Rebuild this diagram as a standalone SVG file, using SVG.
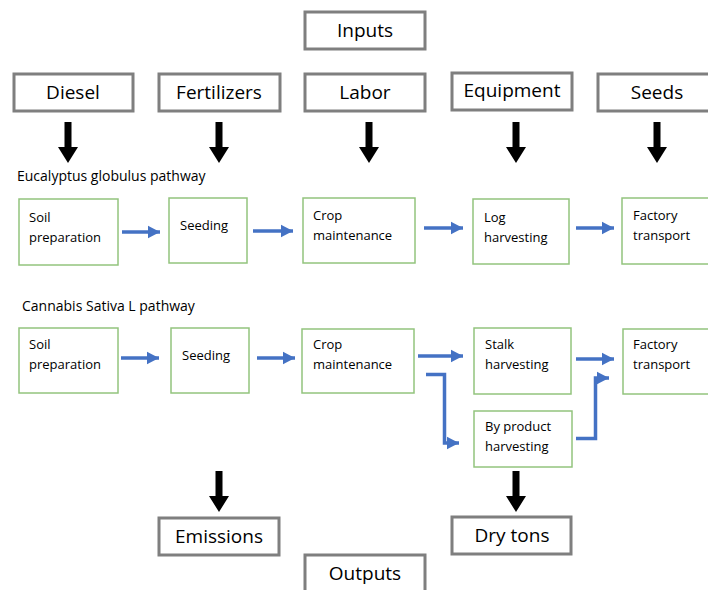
<svg xmlns="http://www.w3.org/2000/svg" width="708" height="590" viewBox="0 0 708 590">
<style>
.io{fill:#fff;stroke:#7f7f7f;stroke-width:3}
.st{fill:#fff;stroke:#93c47d;stroke-width:1.5}
.big{font-family:"Open Sans","Noto Sans",sans-serif;font-size:19px;fill:#000;text-anchor:middle}
.sm{font-family:"Open Sans","Noto Sans",sans-serif;font-size:13px;fill:#000}
.lbl{font-family:"Open Sans","Noto Sans",sans-serif;font-size:14px;fill:#000}
.blk{fill:#000}
.blue{fill:none;stroke:#4472c4;stroke-width:3.5}
</style>
<defs>
<marker id="bh" markerWidth="4" markerHeight="4" refX="3.5" refY="2" orient="auto" markerUnits="strokeWidth">
<path d="M0,0.2 L3.5,2 L0,3.8 Z" fill="#4472c4"/>
</marker>
<path id="down" d="M-3.5,0 H3.5 V25 H10 L0,41 L-10,25 H-3.5 Z"/>
</defs>
<rect width="708" height="590" fill="#fff"/>
<g id="inputs"><rect class="io" x="305" y="12" width="120" height="37"/><text class="big" x="365" y="37">Inputs</text></g>
<g id="diesel"><rect class="io" x="14" y="74" width="119" height="37"/><text class="big" x="73" y="99">Diesel</text></g>
<g id="fertilizers"><rect class="io" x="159" y="74" width="121" height="37"/><text class="big" x="219" y="99">Fertilizers</text></g>
<g id="labor"><rect class="io" x="305" y="74" width="120" height="37"/><text class="big" x="365" y="99">Labor</text></g>
<g id="equipment"><rect class="io" x="452" y="73" width="120" height="37"/><text class="big" x="512" y="97">Equipment</text></g>
<g id="seeds"><rect class="io" x="598" y="74" width="120" height="37"/><text class="big" x="657" y="99">Seeds</text></g>
<g id="outputs"><rect class="io" x="305" y="555" width="120" height="40"/><text class="big" x="365" y="580">Outputs</text></g>
<g id="emissions"><rect class="io" x="159" y="518" width="120" height="37"/><text class="big" x="219" y="543">Emissions</text></g>
<g id="drytons"><rect class="io" x="452" y="517" width="119" height="37"/><text class="big" x="512" y="542">Dry tons</text></g>
<text class="lbl" x="17" y="181">Eucalyptus globulus pathway</text>
<text class="lbl" x="22" y="311">Cannabis Sativa L pathway</text>
<g id="e_soil"><rect class="st" x="19" y="199" width="99" height="66"/><text class="sm" x="29" y="222">Soil</text><text class="sm" x="29" y="242">preparation</text></g>
<g id="e_seeding"><rect class="st" x="169" y="198" width="78" height="65"/><text class="sm" x="180" y="230">Seeding</text></g>
<g id="e_crop"><rect class="st" x="303" y="198" width="112" height="65"/><text class="sm" x="313" y="220">Crop</text><text class="sm" x="313" y="240">maintenance</text></g>
<g id="e_log"><rect class="st" x="473" y="199" width="96" height="65"/><text class="sm" x="484" y="222">Log</text><text class="sm" x="484" y="242">harvesting</text></g>
<g id="e_factory"><rect class="st" x="622" y="198" width="90" height="66"/><text class="sm" x="633" y="220">Factory</text><text class="sm" x="633" y="240">transport</text></g>
<g id="c_soil"><rect class="st" x="19" y="328" width="99" height="65"/><text class="sm" x="29" y="349">Soil</text><text class="sm" x="29" y="369">preparation</text></g>
<g id="c_seeding"><rect class="st" x="171" y="328" width="78" height="65"/><text class="sm" x="182" y="360">Seeding</text></g>
<g id="c_crop"><rect class="st" x="302" y="329" width="112" height="64"/><text class="sm" x="313" y="349">Crop</text><text class="sm" x="313" y="369">maintenance</text></g>
<g id="c_stalk"><rect class="st" x="474" y="328" width="97" height="66"/><text class="sm" x="485" y="349">Stalk</text><text class="sm" x="485" y="369">harvesting</text></g>
<g id="c_byproduct"><rect class="st" x="474" y="411" width="98" height="56"/><text class="sm" x="485" y="431">By product</text><text class="sm" x="485" y="451">harvesting</text></g>
<g id="c_factory"><rect class="st" x="623" y="329" width="90" height="65"/><text class="sm" x="633" y="349">Factory</text><text class="sm" x="633" y="369">transport</text></g>
<g id="connectors">
<use href="#down" class="blk" x="68" y="122"/>
<use href="#down" class="blk" x="219" y="122"/>
<use href="#down" class="blk" x="369" y="122"/>
<use href="#down" class="blk" x="516" y="122"/>
<use href="#down" class="blk" x="657" y="122"/>
<use href="#down" class="blk" x="219" y="471"/>
<use href="#down" class="blk" x="516" y="471"/>
<path class="blue" d="M122,232 H160" marker-end="url(#bh)"/>
<path class="blue" d="M253,231 H293" marker-end="url(#bh)"/>
<path class="blue" d="M424,228 H463" marker-end="url(#bh)"/>
<path class="blue" d="M576,228 H614" marker-end="url(#bh)"/>
<path class="blue" d="M121,358 H159" marker-end="url(#bh)"/>
<path class="blue" d="M257,358 H295" marker-end="url(#bh)"/>
<path class="blue" d="M418,356 H463" marker-end="url(#bh)"/>
<path class="blue" d="M426,374.5 H444.5 V443 H459" marker-end="url(#bh)"/>
<path class="blue" d="M576,359 H614" marker-end="url(#bh)"/>
<path class="blue" d="M576,438.5 H595.5 V378 H609" marker-end="url(#bh)"/>
</g>
</svg>
